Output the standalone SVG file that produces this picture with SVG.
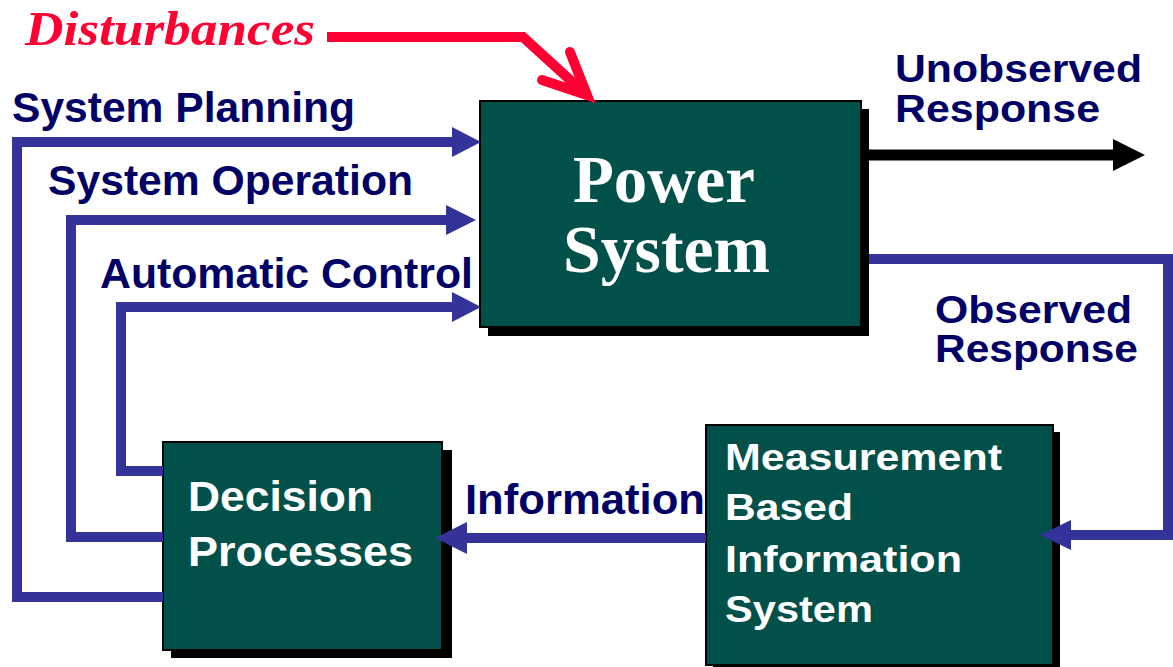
<svg xmlns="http://www.w3.org/2000/svg" width="1173" height="667" viewBox="0 0 1173 667">
<style>
.box{fill:#02504A;stroke:#000;stroke-width:2}
.shadow{fill:#000}
.lbl{font-family:"Liberation Sans",Arial,sans-serif;font-weight:bold;fill:#000066;font-size:42px}
.sm{font-size:39px}
.wt{font-family:"Liberation Sans",Arial,sans-serif;font-weight:bold;fill:#fff}
.serif{font-family:"Liberation Serif","Times New Roman",serif;font-weight:bold;fill:#fff;font-size:68px}
.blue{fill:none;stroke:#333399;stroke-width:10;stroke-linejoin:miter}
.bhead{fill:#333399}
</style>
<rect width="1173" height="667" fill="#fff"/>
<g id="labels">
<text x="25" y="45" font-family="'Liberation Serif','Times New Roman',serif" font-weight="bold" font-style="italic" font-size="48" fill="#FF0033" textLength="290" lengthAdjust="spacingAndGlyphs">Disturbances</text>
<text class="lbl" x="12" y="122" textLength="343" lengthAdjust="spacingAndGlyphs">System Planning</text>
<text class="lbl" x="48" y="195" textLength="365" lengthAdjust="spacingAndGlyphs">System Operation</text>
<text class="lbl" x="100" y="288" textLength="373" lengthAdjust="spacingAndGlyphs">Automatic Control</text>
<text class="lbl sm" x="895" y="82" textLength="247" lengthAdjust="spacingAndGlyphs">Unobserved</text>
<text class="lbl sm" x="895" y="122" textLength="205" lengthAdjust="spacingAndGlyphs">Response</text>
<text class="lbl sm" x="935" y="323" textLength="197" lengthAdjust="spacingAndGlyphs">Observed</text>
<text class="lbl sm" x="935" y="362" textLength="203" lengthAdjust="spacingAndGlyphs">Response</text>
<text class="lbl" x="465" y="514" textLength="240" lengthAdjust="spacingAndGlyphs">Information</text>
</g>
<g id="power-system">
<rect class="shadow" x="488" y="109" width="381" height="227"/>
<rect class="box" x="480" y="101" width="381" height="226"/>
<text class="serif" x="573" y="202" textLength="182" lengthAdjust="spacingAndGlyphs">Power</text>
<text class="serif" x="563" y="272" textLength="207" lengthAdjust="spacingAndGlyphs">System</text>
</g>
<g id="decision-processes">
<rect class="shadow" x="171" y="450" width="281" height="208"/>
<rect class="box" x="163" y="442" width="279" height="208"/>
<text class="wt" x="188" y="511" font-size="43" textLength="185" lengthAdjust="spacingAndGlyphs">Decision</text>
<text class="wt" x="188" y="566" font-size="43" textLength="225" lengthAdjust="spacingAndGlyphs">Processes</text>
</g>
<g id="measurement-system">
<rect class="shadow" x="713" y="432" width="347" height="240"/>
<rect class="box" x="706" y="425" width="347" height="240"/>
<text class="wt" x="725" y="470" font-size="37" textLength="277" lengthAdjust="spacingAndGlyphs">Measurement</text>
<text class="wt" x="725" y="520" font-size="37" textLength="128" lengthAdjust="spacingAndGlyphs">Based</text>
<text class="wt" x="725" y="572" font-size="37" textLength="237" lengthAdjust="spacingAndGlyphs">Information</text>
<text class="wt" x="725" y="622" font-size="37" textLength="148" lengthAdjust="spacingAndGlyphs">System</text>
</g>
<g id="connectors">
<path d="M327,37 H523 L580,89" fill="none" stroke="#FF0033" stroke-width="10" stroke-linejoin="miter"/>
<path d="M542,80 L587,95 L570,52" fill="none" stroke="#FF0033" stroke-width="10" stroke-linecap="round" stroke-linejoin="miter"/>
<path class="blue" d="M163,597 H17 V142 H455"/>
<polygon class="bhead" points="452,127 481,142 452,157"/>
<path class="blue" d="M163,537 H71 V220 H450"/>
<polygon class="bhead" points="446,205 476,220 446,235"/>
<path class="blue" d="M163,471 H121 V307 H455"/>
<polygon class="bhead" points="452,292 481,307 452,322"/>
<path d="M869,155 H1115" stroke="#000" stroke-width="11" fill="none"/>
<polygon points="1113,139 1145,155 1113,171" fill="#000"/>
<path class="blue" stroke-width="9" d="M869,259 H1168 V535 H1068"/>
<polygon class="bhead" points="1071,520 1040,535 1071,550"/>
<path class="blue" d="M706,538 H465"/>
<polygon class="bhead" points="467,522 435,538 467,554"/>
</g>
</svg>
